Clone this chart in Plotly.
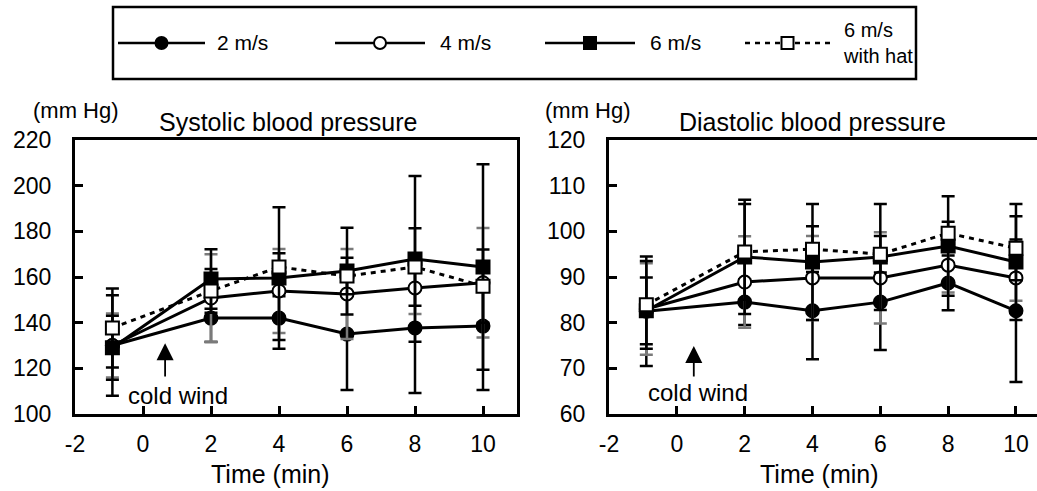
import plotly.graph_objects as go

# ---------------- data ----------------
time_min = [-0.9, 2, 4, 6, 8, 10]
series_names = ["2 m/s", "4 m/s", "6 m/s", "6 m/s<br>with hat"]

sbp_2 = [130, 142, 142, 135, 137.7, 138.5]
sbp_2_sd = [22, 10.5, 9.6, 24.5, 28.5, 28]
sbp_4 = [130, 150.8, 153.9, 152.6, 155.2, 157.5]
sbp_4_sd = [14, 19.2, 18.4, 19.7, 11.4, 24]
sbp_6 = [129, 159.1, 159.6, 162.6, 167.9, 164.4]
sbp_6_sd = [14, 13, 31, 19, 36.3, 45]
sbp_6h = [137.7, 153.9, 164.4, 160.4, 164.4, 156]
sbp_6h_sd = [17.3, 9.6, 6, 8, 17, 16]

dbp_2 = [82.5, 84.5, 82.6, 84.5, 88.7, 82.6]
dbp_2_sd = [12, 5, 10.6, 10.5, 6, 15.6]
dbp_4 = [83, 88.9, 89.8, 89.8, 92.6, 89.8]
dbp_4_sd = [10, 10, 9.2, 10, 6, 5]
dbp_6 = [82.6, 94.4, 93.3, 94.4, 96.8, 93.3]
dbp_6_sd = [7.3, 12.5, 12.7, 11.6, 10.9, 12.7]
dbp_6h = [83.9, 95.5, 96.1, 95, 99.6, 96.3]
dbp_6h_sd = [9.6, 10.5, 5, 4, 2.5, 7]

x_ticks = [-2, 0, 2, 4, 6, 8, 10]
x_ticktext = ["-2", "0", "2", "4", "6", "8", "10"]
sbp_ticks = [100, 120, 140, 160, 180, 200, 220]
dbp_ticks = [60, 70, 80, 90, 100, 110, 120]

# ---------------- styles ----------------
W, H = 1037, 491
FONT = "Liberation Sans, Arial, Helvetica, sans-serif"
DASH = "5px,5px"
styles = [
    dict(symbol="circle", fill="black", dash="solid", ebar="black"),
    dict(symbol="circle", fill="white", dash="solid", ebar="#7a7a7a"),
    dict(symbol="square", fill="black", dash="solid", ebar="black"),
    dict(symbol="square", fill="white", dash=DASH, ebar="black"),
]

fig = go.Figure()

panels = [
    ("x", "y", [(sbp_2, sbp_2_sd), (sbp_4, sbp_4_sd), (sbp_6, sbp_6_sd), (sbp_6h, sbp_6h_sd)]),
    ("x2", "y2", [(dbp_2, dbp_2_sd), (dbp_4, dbp_4_sd), (dbp_6, dbp_6_sd), (dbp_6h, dbp_6h_sd)]),
]

for xa, ya, data in panels:
    for i, ((vals, sd), st) in enumerate(zip(data, styles)):
        fig.add_trace(go.Scatter(
            x=time_min, y=vals, xaxis=xa, yaxis=ya,
            mode="lines+markers",
            name=series_names[i].replace("<br>", " "), showlegend=False,
            line=dict(color="black", width=3, dash=st["dash"]),
            marker=dict(symbol=st["symbol"], size=13, color=st["fill"],
                        line=dict(color="black", width=2)),
            error_y=dict(type="data", array=sd, visible=True,
                         color=st["ebar"], thickness=2.5, width=6.5),
        ))

axis_common = dict(
    showgrid=False, zeroline=False, showline=True, linecolor="black",
    linewidth=3, ticks="inside", tickcolor="black", tickwidth=2.5,
    ticklen=8, automargin=False,
    tickfont=dict(family=FONT, size=23, color="black"),
)

Y0, Y1 = 1 - 414 / H, 1 - 140 / H
fig.update_layout(
    width=W, height=H,
    margin=dict(l=0, r=0, t=0, b=0, pad=0, autoexpand=False),
    paper_bgcolor="white", plot_bgcolor="white",
    font=dict(family=FONT, color="black"),
    showlegend=False,
    xaxis=dict(domain=[75 / W, 517 / W], range=[-2, 11], anchor="y",
               tickvals=x_ticks, ticktext=x_ticktext, mirror=True,
               ticklabelstandoff=7, **axis_common),
    yaxis=dict(domain=[Y0, Y1], range=[100, 220], anchor="x",
               tickvals=sbp_ticks, mirror=True, ticklabelstandoff=16,
               **axis_common),
    xaxis2=dict(domain=[609 / W, 1.0], range=[-2, 10.62], anchor="y2",
                tickvals=x_ticks, ticktext=x_ticktext, mirror=True,
                ticklabelstandoff=7, **axis_common),
    yaxis2=dict(domain=[Y0, Y1], range=[60, 120], anchor="x2",
                tickvals=dbp_ticks, mirror=False, ticklabelstandoff=16,
                **axis_common),
)

ann = []
shapes = []


def text_ann(text, x, y, xref, yref, size, **kw):
    d = dict(text=text, x=x, y=y, xref=xref, yref=yref, showarrow=False,
             xanchor="center", yanchor="middle", font=dict(size=size))
    d.update(kw)
    return d


# panel titles and unit labels
ann.append(text_ann("Systolic blood pressure", 4.25, 1 - 122 / H, "x", "paper", 25))
ann.append(text_ann("Diastolic blood pressure", 4.0, 1 - 122 / H, "x2", "paper", 25))
ann.append(text_ann("(mm Hg)", 76 / W, 1 - 110 / H, "paper", "paper", 22))
ann.append(text_ann("(mm Hg)", 588 / W, 1 - 110 / H, "paper", "paper", 22))
# x-axis titles
ann.append(text_ann("Time (min)", 3.75, 1 - 474 / H, "x", "paper", 25))
ann.append(text_ann("Time (min)", 4.2, 1 - 474 / H, "x2", "paper", 25))
# cold wind arrows
ann.append(dict(text="", x=0.65, y=131, xref="x", yref="y", ax=0.65, ay=115.8,
                axref="x", ayref="y", showarrow=True, arrowhead=2, arrowsize=1.9,
                arrowwidth=1.8, arrowcolor="black"))
ann.append(text_ann("cold wind", 1.03, 107.9, "x", "y", 24))
ann.append(dict(text="", x=0.5, y=74.9, xref="x2", yref="y2", ax=0.5, ay=67.9,
                axref="x2", ayref="y2", showarrow=True, arrowhead=2, arrowsize=1.9,
                arrowwidth=1.8, arrowcolor="black"))
ann.append(text_ann("cold wind", 0.62, 64.8, "x2", "y2", 24))

# ---------------- legend (drawn as a framed key) ----------------
LEG_Y = 1 - 43 / H
shapes.append(dict(type="rect", xref="paper", yref="paper",
                   x0=113 / W, x1=916 / W, y0=1 - 79 / H, y1=1 - 7 / H,
                   line=dict(color="black", width=2.5), fillcolor="white", layer="below"))
leg_entries = [  # line start, line end, text start (px), font size
    (118, 205, 215, 21),
    (335, 425, 438, 21),
    (545, 635, 648, 21),
    (745, 830, 841, 20),
]
for (lx0, lx1, tx, fs), st, name in zip(leg_entries, styles, series_names):
    shapes.append(dict(type="line", xref="paper", yref="paper",
                       x0=lx0 / W, x1=lx1 / W, y0=LEG_Y, y1=LEG_Y,
                       line=dict(color="black", width=2.5,
                                 dash=st["dash"] if st["dash"] != "solid" else "solid")))
    shapes.append(dict(type="circle" if st["symbol"] == "circle" else "rect",
                       xref="paper", yref="paper", xsizemode="pixel", ysizemode="pixel",
                       xanchor=(lx0 + lx1) / 2 / W, yanchor=LEG_Y,
                       x0=-6, x1=6, y0=-6, y1=6,
                       fillcolor=st["fill"], line=dict(color="black", width=2)))
    ann.append(text_ann(name, tx / W, LEG_Y, "paper", "paper", fs,
                        xanchor="left", align="left"))

fig.update_layout(annotations=ann, shapes=shapes)

fig.write_html(
    "out.html",
    config={"displayModeBar": False},
    post_script="document.body.style.margin='0px';document.body.style.overflow='hidden';",
)
